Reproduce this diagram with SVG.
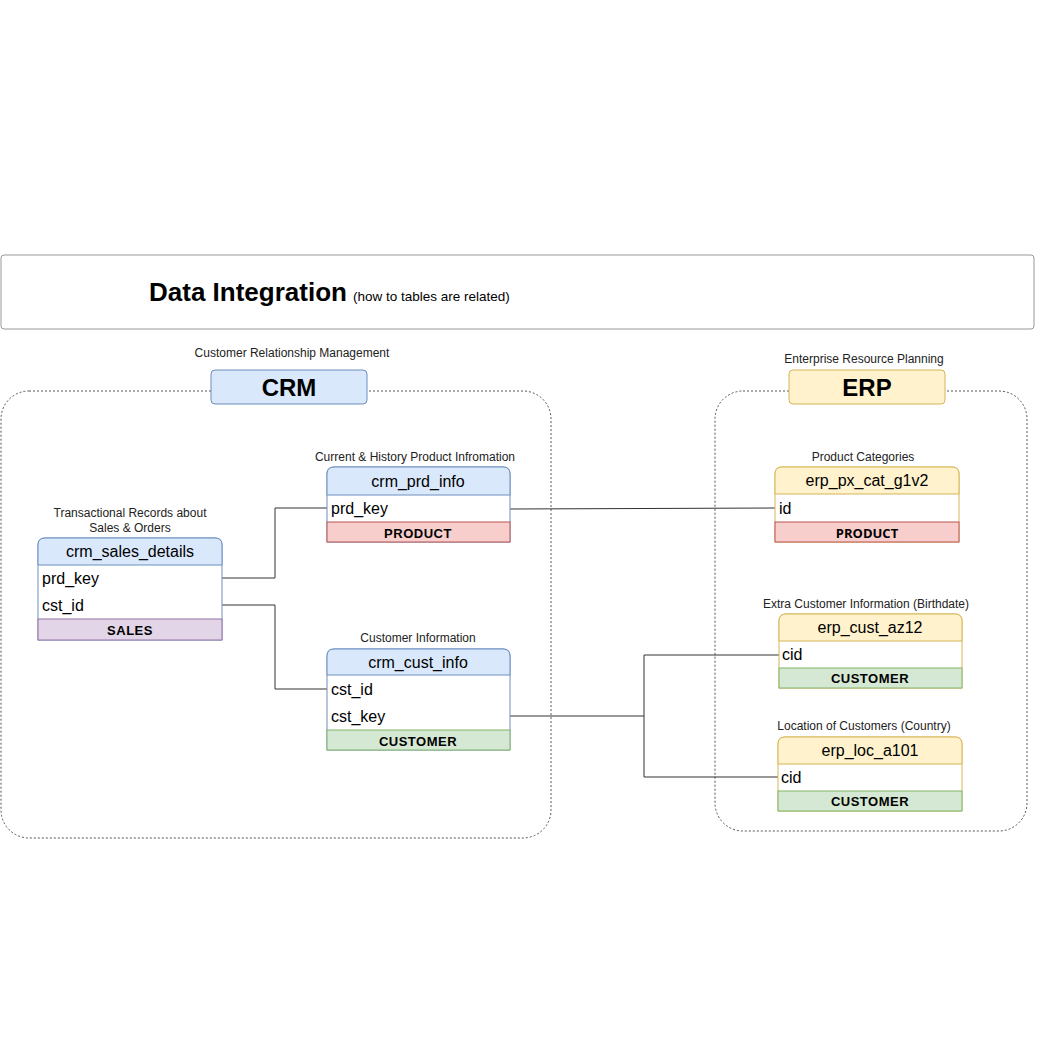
<svg xmlns="http://www.w3.org/2000/svg" width="1063" height="1063" viewBox="0 0 1063 1063">
<style>
text{font-family:"Liberation Sans",Arial,sans-serif;fill:#000}
.lbl{font-size:12px;text-anchor:middle;fill:#222}
.hdr{font-size:16px;text-anchor:middle;dominant-baseline:central}
.fld{font-size:16px;dominant-baseline:central}
.band{font-size:13px;font-weight:bold;text-anchor:middle;dominant-baseline:central;letter-spacing:0.5px}
.cont{fill:none;stroke:#555;stroke-width:1;stroke-dasharray:2 2}
.conn{fill:none;stroke:#333;stroke-width:1}
.blueH{fill:#dae8fc;stroke:#6c8ebf}
.blueB{fill:#fff;stroke:#6c8ebf}
.yelH{fill:#fff2cc;stroke:#d6b656}
.yelB{fill:#fff;stroke:#d6b656}
.red{fill:#f8cecc;stroke:#b85450}
.green{fill:#d5e8d4;stroke:#82b366}
.purple{fill:#e1d5e7;stroke:#9673a6}
</style>
<rect width="1063" height="1063" fill="#fff"/>
<g id="title">
<rect x="1" y="255" width="1033" height="74" rx="3" fill="#fff" stroke="#999"/>
<text x="149" y="301" font-size="26" font-weight="bold">Data Integration</text>
<text x="353" y="301" font-size="13.5">(how to tables are related)</text>
</g>
<g id="crm-group">
<rect class="cont" x="1" y="391" width="550" height="447" rx="28"/>
<text class="lbl" x="292" y="357">Customer Relationship Management</text>
<rect x="211" y="370" width="156" height="34" rx="4" class="blueH"/>
<text x="289" y="396" font-size="24" font-weight="bold" text-anchor="middle">CRM</text>
</g>
<g id="erp-group">
<rect class="cont" x="715" y="391" width="312" height="440" rx="28"/>
<text class="lbl" x="864" y="363">Enterprise Resource Planning</text>
<rect x="789" y="370" width="156" height="34" rx="4" class="yelH"/>
<text x="867" y="396" font-size="24" font-weight="bold" text-anchor="middle">ERP</text>
</g>
<g id="connectors">
<path class="conn" d="M222,578 H275 V508 H327"/>
<path class="conn" d="M222,605 H275 V689 H327"/>
<path class="conn" d="M510,509 L775,508"/>
<path class="conn" d="M510,716 H644 V655 H779"/>
<path class="conn" d="M644,716 V777 H778"/>
</g>
<g id="crm_sales_details">
<text class="lbl" x="130" y="517">Transactional Records about</text>
<text class="lbl" x="130" y="532">Sales &amp; Orders</text>
<path class="blueB" d="M38,640 V545 Q38,538 45,538 H215 Q222,538 222,545 V640 Z"/>
<path class="blueH" d="M38,565 V545 Q38,538 45,538 H215 Q222,538 222,545 V565 Z"/>
<text class="hdr" x="130" y="551">crm_sales_details</text>
<text class="fld" x="42" y="578">prd_key</text>
<text class="fld" x="42" y="605">cst_id</text>
<rect class="purple" x="38" y="619" width="184" height="21"/>
<text class="band" x="130" y="630">SALES</text>
</g>
<g id="crm_prd_info">
<text class="lbl" x="415" y="461">Current &amp; History Product Infromation</text>
<path class="blueB" d="M327,542 V474 Q327,467 334,467 H503 Q510,467 510,474 V542 Z"/>
<path class="blueH" d="M327,495 V474 Q327,467 334,467 H503 Q510,467 510,474 V495 Z"/>
<text class="hdr" x="418" y="481">crm_prd_info</text>
<text class="fld" x="331" y="508">prd_key</text>
<rect class="red" x="327" y="522" width="183" height="20"/>
<text class="band" x="418" y="533">PRODUCT</text>
</g>
<g id="crm_cust_info">
<text class="lbl" x="418" y="642">Customer Information</text>
<path class="blueB" d="M327,750 V656 Q327,649 334,649 H503 Q510,649 510,656 V750 Z"/>
<path class="blueH" d="M327,675 V656 Q327,649 334,649 H503 Q510,649 510,656 V675 Z"/>
<text class="hdr" x="418" y="662">crm_cust_info</text>
<text class="fld" x="331" y="689">cst_id</text>
<text class="fld" x="331" y="716">cst_key</text>
<rect class="green" x="327" y="730" width="183" height="20"/>
<text class="band" x="418" y="741">CUSTOMER</text>
</g>
<g id="erp_px_cat_g1v2">
<text class="lbl" x="863" y="461">Product Categories</text>
<path class="yelB" d="M775,542 V474 Q775,467 782,467 H952 Q959,467 959,474 V542 Z"/>
<path class="yelH" d="M775,494 V474 Q775,467 782,467 H952 Q959,467 959,474 V494 Z"/>
<text class="hdr" x="867" y="480">erp_px_cat_g1v2</text>
<text class="fld" x="779" y="508">id</text>
<rect class="red" x="775" y="522" width="184" height="20"/>
<text class="band" x="867" y="533" style="font-family:'Open Sans',sans-serif;letter-spacing:0">PRODUCT</text>
</g>
<g id="erp_cust_az12">
<text class="lbl" x="866" y="608">Extra Customer Information (Birthdate)</text>
<path class="yelB" d="M779,688 V621 Q779,614 786,614 H955 Q962,614 962,621 V688 Z"/>
<path class="yelH" d="M779,641 V621 Q779,614 786,614 H955 Q962,614 962,621 V641 Z"/>
<text class="hdr" x="870" y="627">erp_cust_az12</text>
<text class="fld" x="782" y="654">cid</text>
<rect class="green" x="779" y="668" width="183" height="20"/>
<text class="band" x="870" y="678">CUSTOMER</text>
</g>
<g id="erp_loc_a101">
<text class="lbl" x="864" y="730">Location of Customers (Country)</text>
<path class="yelB" d="M778,811 V744 Q778,737 785,737 H955 Q962,737 962,744 V811 Z"/>
<path class="yelH" d="M778,764 V744 Q778,737 785,737 H955 Q962,737 962,744 V764 Z"/>
<text class="hdr" x="870" y="750">erp_loc_a101</text>
<text class="fld" x="781" y="777">cid</text>
<rect class="green" x="778" y="791" width="184" height="20"/>
<text class="band" x="870" y="801">CUSTOMER</text>
</g>
</svg>
